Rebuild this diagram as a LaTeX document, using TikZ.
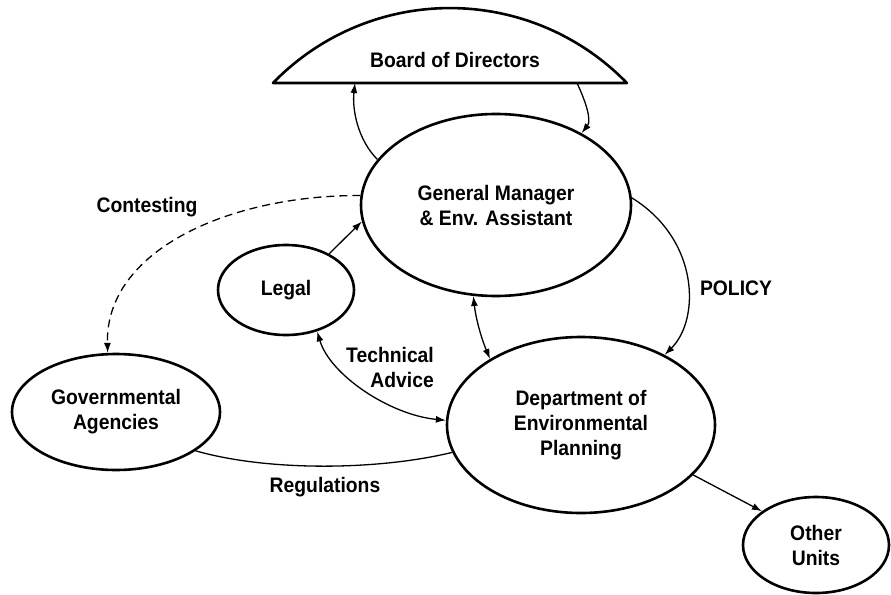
\documentclass[tikz,border=0pt]{standalone}
\usepackage{fontspec}
\setmainfont{Liberation Sans}[FakeStretch=0.92]
\usetikzlibrary{shapes.geometric,arrows.meta}
\begin{document}
\begin{tikzpicture}[x=1pt,y=-1pt,
  txt/.style={font=\fontsize{21}{25}\selectfont\bfseries,align=center,inner sep=0pt},
  blob/.style={txt,ellipse,draw,line width=2.6pt},
  conn/.style={line width=1.3pt,-{Latex[length=10pt,width=7pt]}},
  both/.style={line width=1.3pt,{Latex[length=10pt,width=7pt]}-{Latex[length=10pt,width=7pt]}},
  plain/.style={line width=1.3pt},
  dashline/.style={line width=1.3pt,dash pattern=on 8pt off 5pt,-{Latex[length=10pt,width=7pt]}}
]
\useasboundingbox (0,0) rectangle (891,594);

% Board of Directors (circular segment)
\draw[line width=2.6pt,line join=round] (273,83) arc[start angle=135.9,end angle=44.1,radius=246.4pt] -- cycle;
\node[txt] (board) at (455,60) {Board of Directors};
\coordinate (bL) at (355,83);
\coordinate (bR) at (577,83);

% Ellipses
\node[blob,minimum width=270pt,minimum height=182pt] (gm) at (496,205) {General Manager\\\& Env. Assistant};
\node[blob,minimum width=136pt,minimum height=90pt] (legal) at (286,290) {Legal};
\node[blob,minimum width=208pt,minimum height=116pt] (gov) at (116,412) {Governmental\\Agencies};
\node[blob,minimum width=268pt,minimum height=176pt] (dept) at (581,425) {Department of\\Environmental\\Planning};
\node[blob,minimum width=146pt,minimum height=96pt] (other) at (816,545) {Other\\Units};

% Connectors
\draw[conn] (gm.159) .. controls (358,140) and (352,110) .. (bL);
\draw[conn] (bR) .. controls (585,100) and (592,120) .. (gm.40);
\draw[dashline] (gm.176) .. controls (230,195) and (105,250) .. (gov.98);
\draw[conn] (legal.40) -- (gm.187);
\draw[both] (legal.-53) .. controls (330,375) and (390,415) .. (dept.178);
\draw[both] (gm.-104) .. controls (476,320) and (482,340) .. (dept.144);
\draw[conn] (gm.3) .. controls (700,240) and (700,320) .. (dept.40);
\draw[plain] (gov.-26) .. controls (270,472) and (380,470) .. (dept.-168);
\draw[conn] (dept.-24) -- (other.148);

% Labels
\node[txt] (contesting) at (147,207) {Contesting};
\node[txt,align=right] (tech) at (390,367) {Technical\\Advice};
\node[txt] (policy) at (736,288) {POLICY};
\node[txt] (regs) at (325,487) {Regulations};
\end{tikzpicture}
\end{document}
